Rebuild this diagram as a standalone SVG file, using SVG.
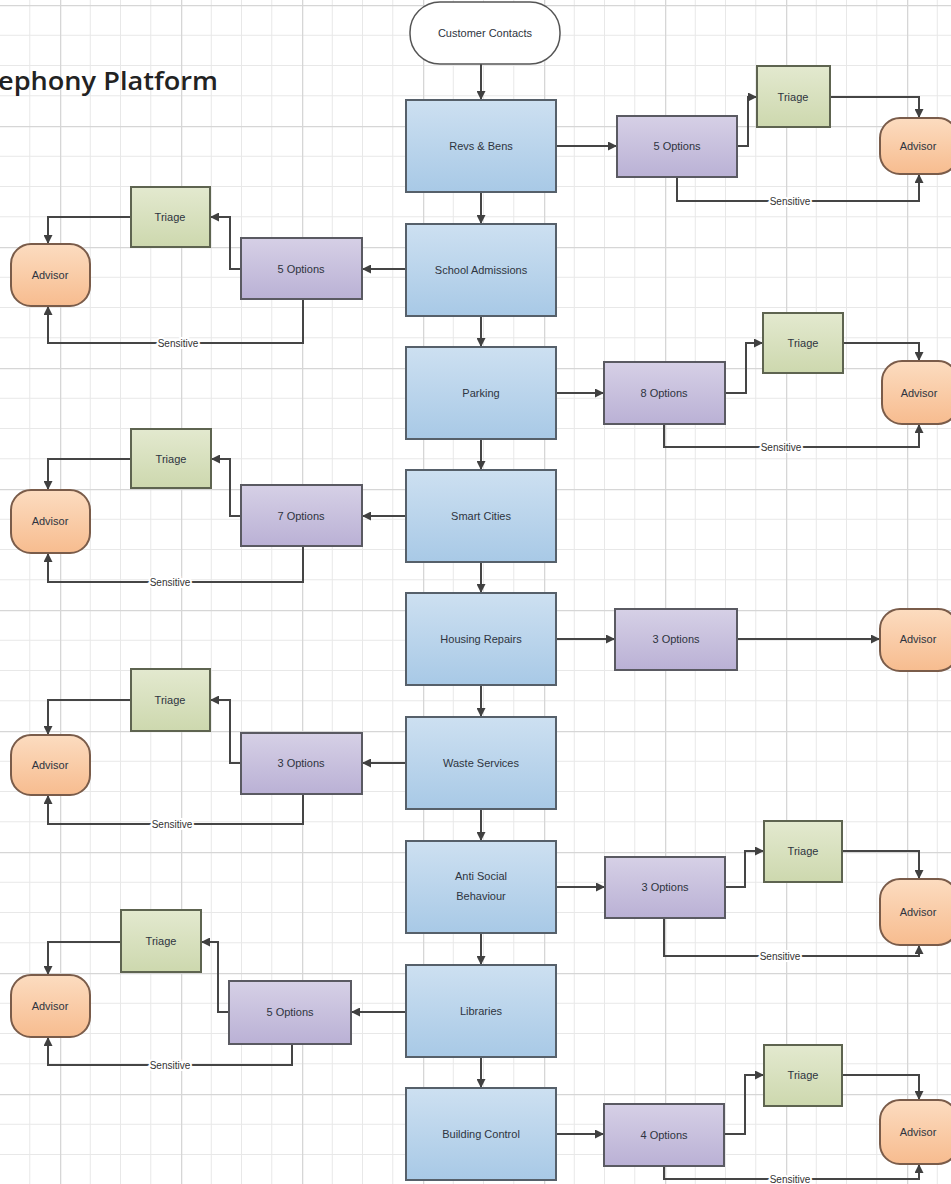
<svg xmlns="http://www.w3.org/2000/svg" width="951" height="1184" viewBox="0 0 951 1184">
<defs>
<pattern id="grid" x="60" y="5" width="121" height="121" patternUnits="userSpaceOnUse">
<path d="M30.25 0V121M60.5 0V121M90.75 0V121M0 30.25H121M0 60.5H121M0 90.75H121" stroke="#e8e8e8" stroke-width="1" fill="none"/>
<path d="M0.5 0V121M0 0.5H121" stroke="#d6d6d6" stroke-width="1.6" fill="none"/>
</pattern>
<linearGradient id="gMain" x1="0" y1="0" x2="0" y2="1"><stop offset="0" stop-color="#cde0f1"/><stop offset="1" stop-color="#a8c9e6"/></linearGradient>
<linearGradient id="gOpt" x1="0" y1="0" x2="0" y2="1"><stop offset="0" stop-color="#d6d0e6"/><stop offset="1" stop-color="#bab1d5"/></linearGradient>
<linearGradient id="gTri" x1="0" y1="0" x2="0" y2="1"><stop offset="0" stop-color="#e3e9cf"/><stop offset="1" stop-color="#cdd8ae"/></linearGradient>
<linearGradient id="gAdv" x1="0" y1="0" x2="0" y2="1"><stop offset="0" stop-color="#fcdcc0"/><stop offset="1" stop-color="#f7bc8f"/></linearGradient>
<marker id="arr" viewBox="0 0 10 10" refX="10" refY="5" markerWidth="9" markerHeight="9" markerUnits="userSpaceOnUse" orient="auto"><path d="M0,0 L10,5 L0,10 z" fill="#404040"/></marker>
<style>
.main{fill:url(#gMain);stroke:#56606a;stroke-width:2}
.opt{fill:url(#gOpt);stroke:#5a5a62;stroke-width:2}
.tri{fill:url(#gTri);stroke:#5e6450;stroke-width:2}
.adv{fill:url(#gAdv);stroke:#7a5c4a;stroke-width:2}
.pill{fill:#ffffff;stroke:#555555;stroke-width:1.5}
.t{font-family:"Liberation Sans",Arial,sans-serif;font-size:11px;fill:#2e3440;text-anchor:middle;dominant-baseline:central}
.c{fill:none;stroke:#454545;stroke-width:2;marker-end:url(#arr)}
.cl{fill:none;stroke:#454545;stroke-width:2}
.s{font-family:"Liberation Sans",Arial,sans-serif;font-size:10px;fill:#333;text-anchor:middle;dominant-baseline:central;stroke:#ffffff;stroke-width:4;paint-order:stroke}
</style>
</defs>
<rect width="951" height="1184" fill="#ffffff"/>
<rect width="951" height="1184" fill="url(#grid)"/>
<text x="-2" y="90" font-family="'Open Sans','Liberation Sans',sans-serif" font-size="25" font-weight="600" fill="#222" textLength="220" lengthAdjust="spacingAndGlyphs">ephony Platform</text>

<g id="connectors">
<path class="c" d="M481 64V100"/>
<path class="c" d="M481 192V224"/>
<path class="c" d="M481 316V347"/>
<path class="c" d="M481 439V470"/>
<path class="c" d="M481 562V593"/>
<path class="c" d="M481 685V717"/>
<path class="c" d="M481 809V841"/>
<path class="c" d="M481 933V965"/>
<path class="c" d="M481 1057V1088"/>
<!-- group 1 -->
<path class="c" d="M556 146H617"/>
<path class="c" d="M737 146H748V97H757"/>
<path class="c" d="M830 97H919V118"/>
<path class="c" d="M677 177V201H919V174"/>
<!-- group 2 -->
<path class="c" d="M406 269H362"/>
<path class="c" d="M241 269H230V217H210"/>
<path class="c" d="M131 217H48V244"/>
<path class="c" d="M303 299V343H48V306"/>
<!-- group 3 -->
<path class="c" d="M556 393H604"/>
<path class="c" d="M725 393H746V343H763"/>
<path class="c" d="M843 343H919V361"/>
<path class="c" d="M664 424V447H919V424"/>
<!-- group 4 -->
<path class="c" d="M406 516H362"/>
<path class="c" d="M241 516H230V459H211"/>
<path class="c" d="M131 459H48V490"/>
<path class="c" d="M303 546V582H48V553"/>
<!-- group 5 -->
<path class="c" d="M556 639H615"/>
<path class="c" d="M737 639H880"/>
<!-- group 6 -->
<path class="c" d="M406 763H362"/>
<path class="c" d="M241 763H230V700H210"/>
<path class="c" d="M131 700H48V735"/>
<path class="c" d="M303 794V824H48V795"/>
<!-- group 7 -->
<path class="c" d="M556 887H605"/>
<path class="c" d="M725 887H745V851H764"/>
<path class="c" d="M842 851H919V879"/>
<path class="c" d="M664 918V956H919V945"/>
<!-- group 8 -->
<path class="c" d="M406 1012H351"/>
<path class="c" d="M229 1012H218V942H201"/>
<path class="c" d="M121 942H48V975"/>
<path class="c" d="M292 1044V1065H48V1037"/>
<!-- group 9 -->
<path class="c" d="M556 1134H604"/>
<path class="c" d="M724 1134H745V1075H764"/>
<path class="c" d="M842 1075H919V1100"/>
<path class="c" d="M664 1166V1179H919V1164"/>
<text class="s" x="790" y="201">Sensitive</text>
<text class="s" x="178" y="343">Sensitive</text>
<text class="s" x="781" y="447">Sensitive</text>
<text class="s" x="170" y="582">Sensitive</text>
<text class="s" x="172" y="824">Sensitive</text>
<text class="s" x="780" y="956">Sensitive</text>
<text class="s" x="170" y="1065">Sensitive</text>
<text class="s" x="790" y="1179">Sensitive</text>
</g>

<g id="customer-contacts"><rect class="pill" x="410" y="2" width="150" height="62" rx="30"/><text class="t" x="485" y="33">Customer Contacts</text></g>

<g id="revs-bens"><rect class="main" x="406" y="100" width="150" height="92"/><text class="t" x="481" y="146">Revs &amp; Bens</text></g>
<g id="school-admissions"><rect class="main" x="406" y="224" width="150" height="92"/><text class="t" x="481" y="270">School Admissions</text></g>
<g id="parking"><rect class="main" x="406" y="347" width="150" height="92"/><text class="t" x="481" y="393">Parking</text></g>
<g id="smart-cities"><rect class="main" x="406" y="470" width="150" height="92"/><text class="t" x="481" y="516">Smart Cities</text></g>
<g id="housing-repairs"><rect class="main" x="406" y="593" width="150" height="92"/><text class="t" x="481" y="639">Housing Repairs</text></g>
<g id="waste-services"><rect class="main" x="406" y="717" width="150" height="92"/><text class="t" x="481" y="763">Waste Services</text></g>
<g id="anti-social"><rect class="main" x="406" y="841" width="150" height="92"/><text class="t" x="481" y="876">Anti Social</text><text class="t" x="481" y="896">Behaviour</text></g>
<g id="libraries"><rect class="main" x="406" y="965" width="150" height="92"/><text class="t" x="481" y="1011">Libraries</text></g>
<g id="building-control"><rect class="main" x="406" y="1088" width="150" height="92"/><text class="t" x="481" y="1134">Building Control</text></g>

<g id="opt1"><rect class="opt" x="617" y="116" width="120" height="61"/><text class="t" x="677" y="146">5 Options</text></g>
<g id="tri1"><rect class="tri" x="757" y="66" width="73" height="61"/><text class="t" x="793" y="97">Triage</text></g>
<g id="adv1"><rect class="adv" x="880" y="118" width="78" height="56" rx="20"/><text class="t" x="918" y="146">Advisor</text></g>

<g id="opt2"><rect class="opt" x="241" y="238" width="121" height="61"/><text class="t" x="301" y="269">5 Options</text></g>
<g id="tri2"><rect class="tri" x="131" y="187" width="79" height="60"/><text class="t" x="170" y="217">Triage</text></g>
<g id="adv2"><rect class="adv" x="11" y="244" width="79" height="62" rx="20"/><text class="t" x="50" y="275">Advisor</text></g>

<g id="opt3"><rect class="opt" x="604" y="362" width="121" height="62"/><text class="t" x="664" y="393">8 Options</text></g>
<g id="tri3"><rect class="tri" x="763" y="313" width="80" height="60"/><text class="t" x="803" y="343">Triage</text></g>
<g id="adv3"><rect class="adv" x="882" y="361" width="76" height="63" rx="20"/><text class="t" x="919" y="393">Advisor</text></g>

<g id="opt4"><rect class="opt" x="241" y="485" width="121" height="61"/><text class="t" x="301" y="516">7 Options</text></g>
<g id="tri4"><rect class="tri" x="131" y="429" width="80" height="59"/><text class="t" x="171" y="459">Triage</text></g>
<g id="adv4"><rect class="adv" x="11" y="490" width="79" height="63" rx="20"/><text class="t" x="50" y="521">Advisor</text></g>

<g id="opt5"><rect class="opt" x="615" y="609" width="122" height="61"/><text class="t" x="676" y="639">3 Options</text></g>
<g id="adv5"><rect class="adv" x="880" y="609" width="78" height="62" rx="20"/><text class="t" x="918" y="639">Advisor</text></g>

<g id="opt6"><rect class="opt" x="241" y="733" width="121" height="61"/><text class="t" x="301" y="763">3 Options</text></g>
<g id="tri6"><rect class="tri" x="131" y="669" width="79" height="62"/><text class="t" x="170" y="700">Triage</text></g>
<g id="adv6"><rect class="adv" x="11" y="735" width="79" height="60" rx="20"/><text class="t" x="50" y="765">Advisor</text></g>

<g id="opt7"><rect class="opt" x="605" y="857" width="120" height="61"/><text class="t" x="665" y="887">3 Options</text></g>
<g id="tri7"><rect class="tri" x="764" y="821" width="78" height="61"/><text class="t" x="803" y="851">Triage</text></g>
<g id="adv7"><rect class="adv" x="880" y="879" width="78" height="66" rx="20"/><text class="t" x="918" y="912">Advisor</text></g>

<g id="opt8"><rect class="opt" x="229" y="981" width="122" height="63"/><text class="t" x="290" y="1012">5 Options</text></g>
<g id="tri8"><rect class="tri" x="121" y="910" width="80" height="62"/><text class="t" x="161" y="941">Triage</text></g>
<g id="adv8"><rect class="adv" x="11" y="975" width="79" height="62" rx="20"/><text class="t" x="50" y="1006">Advisor</text></g>

<g id="opt9"><rect class="opt" x="604" y="1104" width="120" height="62"/><text class="t" x="664" y="1135">4 Options</text></g>
<g id="tri9"><rect class="tri" x="764" y="1045" width="78" height="61"/><text class="t" x="803" y="1075">Triage</text></g>
<g id="adv9"><rect class="adv" x="880" y="1100" width="78" height="64" rx="20"/><text class="t" x="918" y="1132">Advisor</text></g>
</svg>
